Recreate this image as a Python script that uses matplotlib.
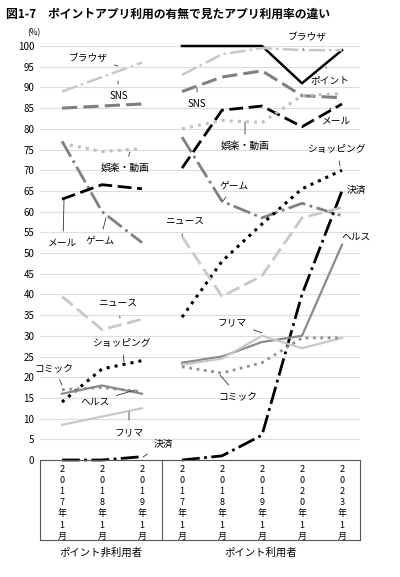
import matplotlib
matplotlib.use("Agg")
import matplotlib.pyplot as plt

plt.rcParams['font.family'] = ['Noto Sans CJK JP', 'DejaVu Sans']

years_non = ["2017年1月", "2018年1月", "2019年1月"]
years_use = ["2017年1月", "2018年1月", "2019年1月", "2020年1月", "2023年1月"]
group_labels = ["ポイント非利用者", "ポイント利用者"]

non = {
    "ブラウザ": [89, 92.5, 96], "SNS": [85, 85.5, 86], "娯楽・動画": [76.5, 74.5, 75.2],
    "ゲーム": [77, 60, 52.5], "メール": [63, 66.5, 65.5], "ニュース": [39.5, 31.5, 34],
    "ショッピング": [14, 22, 24], "コミック": [17, 17.5, 16.5], "ヘルス": [16, 18, 16],
    "フリマ": [8.5, 10.5, 12.5], "決済": [0, 0, 0.8],
}
use = {
    "ポイント": [100, 100, 100, 91, 99], "ブラウザ": [93, 98, 99.5, 99, 99],
    "SNS": [89, 92.5, 94, 88, 87.5], "メール": [70.5, 84.5, 85.5, 80.5, 86],
    "娯楽・動画": [80, 82, 81.5, 88, 88.5], "ゲーム": [78, 62.5, 58.5, 62, 59],
    "ショッピング": [34.5, 48, 57, 65.5, 70], "決済": [0, 1, 6, 40, 65],
    "ニュース": [54, 39.5, 44.5, 58.5, 61], "ヘルス": [23.5, 25, 28.5, 30, 52],
    "フリマ": [23, 24.5, 30, 27, 29.5], "コミック": [22.5, 21, 23.5, 29.5, 29.5],
}

styles = {
    "ポイント": dict(color="black", ls="-", lw=1.8),
    "ブラウザ": dict(color="#c8c8c8", ls="-.", lw=1.8),
    "SNS": dict(color="#808080", ls=(0, (5, 2)), lw=2.2),
    "メール": dict(color="black", ls=(0, (5, 2)), lw=2.0),
    "娯楽・動画": dict(color="#c0c0c0", ls=":", lw=2.2),
    "ゲーム": dict(color="#808080", ls="-.", lw=2.0),
    "ショッピング": dict(color="black", ls=":", lw=2.2),
    "決済": dict(color="black", ls="-.", lw=2.0),
    "ニュース": dict(color="#c8c8c8", ls=(0, (5, 2)), lw=2.0),
    "ヘルス": dict(color="#8a8a8a", ls="-", lw=1.6),
    "フリマ": dict(color="#c8c8c8", ls="-", lw=1.6),
    "コミック": dict(color="#909090", ls=":", lw=2.0),
}

W, H = 400, 577
fig = plt.figure(figsize=(4, 5.77), dpi=100)
ax = fig.add_axes([40 / W, 1 - 460 / H, 320 / W, 414 / H])
xmin, xmax = -0.55, 7.45
ax.set_xlim(xmin, xmax)
ax.set_ylim(0, 100)
ax.set_yticks(range(0, 101, 5))
ax.tick_params(axis='y', labelsize=7, length=0, pad=4)
ax.set_xticks([])
ax.grid(axis='y', color='#dddddd', lw=0.8)
ax.set_axisbelow(True)
for s in ['top', 'right', 'left']:
    ax.spines[s].set_visible(False)
ax.spines['bottom'].set_color('#555555')
ax.text(-0.55, 102, "(%)", fontsize=6, ha='right', va='bottom')

xn = list(range(len(years_non)))
xu = [3 + i for i in range(len(years_use))]
for k, v in non.items():
    ax.plot(xn, v, clip_on=False, **styles[k])
for k, v in use.items():
    ax.plot(xu, v, clip_on=False, **styles[k])

def px(x, y):
    return ((x - 62) / 40.0, (460 - y) / 4.14)

labels = [
    ("ブラウザ", (88, 58), (118, 66)), ("SNS", (119, 96), (118, 81)),
    ("娯楽・動画", (125, 168), (130, 152)), ("メール", (63, 243), (64, 200)),
    ("ゲーム", (100, 241), (106, 218)), ("ニュース", (118, 304), (120, 318)),
    ("ショッピング", (122, 343), (124, 362)), ("コミック", (54, 368), (62, 385)),
    ("ヘルス", (95, 402), (135, 390)), ("フリマ", (129, 432), (129, 412)),
    ("決済", (163, 444), (143, 457)),
    ("ブラウザ", (307, 37), (303, 50)), ("ポイント", (330, 80), (326, 67)),
    ("SNS", (197, 104), (197, 88)), ("メール", (337, 121), (330, 108)),
    ("娯楽・動画", (245, 146), (245, 122)), ("ショッピング", (337, 149), (340, 166)),
    ("ゲーム", (234, 186), (223, 201)), ("決済", (356, 190), None),
    ("ヘルス", (356, 237), None), ("ニュース", (185, 222), (182, 236)),
    ("フリマ", (232, 322), (262, 333)), ("コミック", (238, 396), (220, 375)),
]
for t, (tx, ty), tgt in labels:
    if tgt is None:
        ax.text(*px(tx, ty), t, fontsize=7, ha='center', va='center')
    else:
        ax.annotate(t, xy=px(*tgt), xytext=px(tx, ty), fontsize=7, ha='center', va='center',
                    arrowprops=dict(arrowstyle='-', color='#333333', lw=0.6, shrinkA=3, shrinkB=0),
                    annotation_clip=False)

def fx(p): return p / W
def fy(p): return 1 - p / H
for xx in [40, 162, 360]:
    fig.add_artist(plt.Line2D([fx(xx), fx(xx)], [fy(460), fy(540)], color='#555555', lw=0.8))
fig.add_artist(plt.Line2D([fx(40), fx(360)], [fy(540), fy(540)], color='#555555', lw=0.8))
for i, lab in enumerate(years_non + years_use):
    x = ax.transData.transform((i, 0))[0] / fig.dpi / 4
    fig.text(x, fy(465), "\n".join(lab), fontsize=6.5, ha='center', va='top', linespacing=1.3)
fig.text(fx(101), fy(553), group_labels[0], fontsize=7.5, ha='center', va='center')
fig.text(fx(261), fy(553), group_labels[1], fontsize=7.5, ha='center', va='center')

fig.text(fx(6), fy(14), "図1-7　ポイントアプリ利用の有無で見たアプリ利用率の違い",
         fontsize=8.5, fontweight='bold', ha='left', va='center')

fig.savefig("out.png", dpi=100)
